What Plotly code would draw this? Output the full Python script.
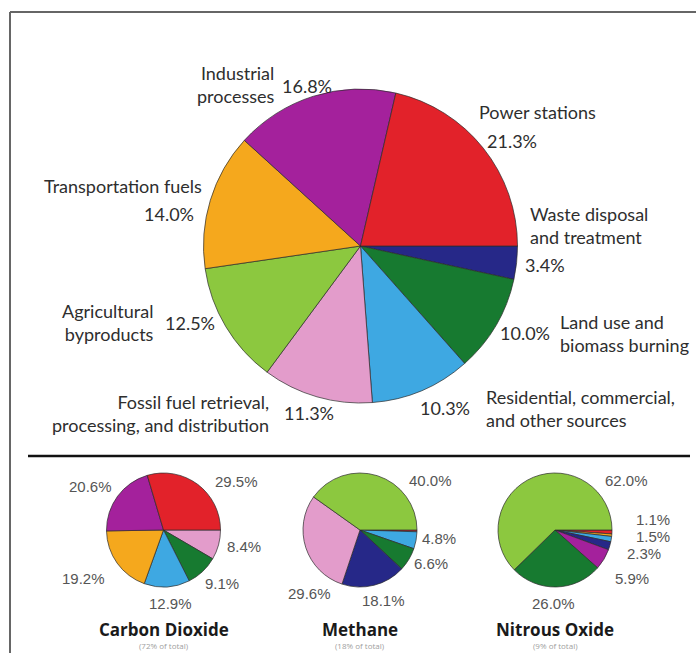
import plotly.graph_objects as go

W, H = 696, 653

# Emission sources and their colours
sources = [
    "Power stations",
    "Industrial processes",
    "Transportation fuels",
    "Agricultural byproducts",
    "Fossil fuel retrieval, processing, and distribution",
    "Residential, commercial, and other sources",
    "Land use and biomass burning",
    "Waste disposal and treatment",
]
source_colors = {
    "Power stations": "#e2222a",
    "Industrial processes": "#a4219c",
    "Transportation fuels": "#f5a81d",
    "Agricultural byproducts": "#8cc83f",
    "Fossil fuel retrieval, processing, and distribution": "#e39ccb",
    "Residential, commercial, and other sources": "#3ea8e2",
    "Land use and biomass burning": "#177a30",
    "Waste disposal and treatment": "#262888",
}

# All greenhouse gases (%), listed counterclockwise from 3 o'clock
all_gases = [21.3, 16.8, 14.0, 12.5, 11.3, 10.3, 10.0, 3.4]

# Carbon dioxide (%)
co2_sources = ["Power stations", "Industrial processes", "Transportation fuels",
               "Residential, commercial, and other sources",
               "Land use and biomass burning",
               "Fossil fuel retrieval, processing, and distribution"]
co2_values = [29.5, 20.6, 19.2, 12.9, 9.1, 8.4]

# Methane (%)
ch4_sources = ["Agricultural byproducts",
               "Fossil fuel retrieval, processing, and distribution",
               "Waste disposal and treatment",
               "Land use and biomass burning",
               "Residential, commercial, and other sources",
               "Power stations"]
ch4_values = [40.0, 29.6, 18.1, 6.6, 4.8, 0.5]

# Nitrous oxide (%)
n2o_sources = ["Agricultural byproducts", "Land use and biomass burning",
               "Industrial processes", "Waste disposal and treatment",
               "Residential, commercial, and other sources",
               "Transportation fuels", "Power stations"]
n2o_values = [62.0, 26.0, 5.9, 2.3, 1.5, 0.7, 1.1]

gas_titles = ["Carbon Dioxide", "Methane", "Nitrous Oxide"]
gas_shares = ["(72% of total)", "(18% of total)", "(9% of total)"]

# Wrapped captions for the main chart
captions = {
    "Power stations": "Power stations",
    "Industrial processes": "Industrial<br>processes",
    "Transportation fuels": "Transportation fuels",
    "Agricultural byproducts": "Agricultural<br>byproducts",
    "Fossil fuel retrieval, processing, and distribution": "Fossil fuel retrieval,<br>processing, and distribution",
    "Residential, commercial, and other sources": "Residential, commercial,<br>and other sources",
    "Land use and biomass burning": "Land use and<br>biomass burning",
    "Waste disposal and treatment": "Waste disposal<br>and treatment",
}


def px_domain(cx, cy, r):
    return dict(x=[(cx - r) / W, (cx + r) / W],
                y=[(H - cy - r) / H, (H - cy + r) / H])


def pie(labels, values, dom):
    # slices are listed counterclockwise from 3 o'clock; draw them clockwise
    # from the same start by reversing the order
    labels = list(labels)[::-1]
    values = list(values)[::-1]
    return go.Pie(
        labels=labels, values=values, sort=False,
        direction="clockwise", rotation=90,
        marker=dict(colors=[source_colors[s] for s in labels],
                    line=dict(color="#2b2b2b", width=0.7)),
        textinfo="none", hoverinfo="label+percent",
        domain=dom, showlegend=False,
    )


fig = go.Figure()
fig.add_trace(pie(sources, all_gases, px_domain(360.5, 246, 157)))
small_centers = [(163.5, 530), (360, 530), (555, 530)]
for (cx, cy), labs, vals in zip(small_centers,
                                [co2_sources, ch4_sources, n2o_sources],
                                [co2_values, ch4_values, n2o_values]):
    fig.add_trace(pie(labs, vals, px_domain(cx, cy, 57)))

ann = []
TXT = "#2e2e2e"
BIG = dict(family="Lato, 'Open Sans', sans-serif", size=18, color=TXT)


def add_text(text, x, y, xanchor="left", align="left", font=BIG):
    ann.append(dict(text=text, x=x / W, y=1 - y / H, xref="paper", yref="paper",
                    xanchor=xanchor, yanchor="middle", align=align,
                    showarrow=False, font=font))


def pct(v):
    return f"{v:.1f}%"


# Main chart captions: (caption pos, anchor, percent pos, anchor)
big_layout = {
    "Power stations": ((477, 112), "left", (485, 141), "left"),
    "Industrial processes": ((277, 85), "right", (280, 86), "left"),
    "Transportation fuels": ((204, 186), "right", (196, 214), "right"),
    "Agricultural byproducts": ((156, 323), "right", (163, 323), "left"),
    "Fossil fuel retrieval, processing, and distribution": ((271, 413), "right", (282, 413), "left"),
    "Residential, commercial, and other sources": ((484, 408), "left", (472, 408), "right"),
    "Land use and biomass burning": ((558, 333), "left", (552, 333), "right"),
    "Waste disposal and treatment": ((528, 226), "left", (523, 265), "left"),
}
for s, v in zip(sources, all_gases):
    (tx, ty), ta, (px, py), pa = big_layout[s]
    add_text(captions[s], tx, ty, xanchor=ta, align=ta)
    add_text(pct(v), px, py, xanchor=pa, align=pa)

SMALL = dict(family="'Liberation Sans', Arial, sans-serif", size=15, color="#555555")
small_layout = [
    {"Power stations": (213, 481), "Industrial processes": (67, 486),
     "Fossil fuel retrieval, processing, and distribution": (225, 546),
     "Transportation fuels": (60, 578), "Land use and biomass burning": (203, 583),
     "Residential, commercial, and other sources": (147, 603)},
    {"Agricultural byproducts": (407, 480),
     "Residential, commercial, and other sources": (420, 538),
     "Land use and biomass burning": (412, 563),
     "Fossil fuel retrieval, processing, and distribution": (286, 593),
     "Waste disposal and treatment": (360, 600)},
    {"Agricultural byproducts": (603, 480), "Power stations": (634, 519),
     "Residential, commercial, and other sources": (634, 536),
     "Waste disposal and treatment": (625, 553),
     "Industrial processes": (613, 578), "Land use and biomass burning": (530, 603)},
]
for pos, labs, vals in zip(small_layout,
                           [co2_sources, ch4_sources, n2o_sources],
                           [co2_values, ch4_values, n2o_values]):
    for s, v in zip(labs, vals):
        if s in pos:
            x, y = pos[s]
            add_text(pct(v), x, y, font=SMALL)

for (cx, _), title, share in zip(small_centers, gas_titles, gas_shares):
    add_text(f"<b>{title}</b>", cx, 629, xanchor="center", align="center",
             font=dict(family="'Open Sans', sans-serif", size=17, color="#1a1a1a"))
    add_text(share, cx, 645, xanchor="center", align="center",
             font=dict(family="'Open Sans', sans-serif", size=8, color="#a0a0a0"))

shapes = [
    # frame
    dict(type="line", xref="paper", yref="paper", x0=10 / W, x1=1, y0=1 - 12 / H, y1=1 - 12 / H,
         line=dict(color="#666666", width=2)),
    dict(type="line", xref="paper", yref="paper", x0=10 / W, x1=10 / W, y0=0, y1=1 - 12 / H,
         line=dict(color="#666666", width=2)),
    # divider
    dict(type="line", xref="paper", yref="paper", x0=28 / W, x1=690 / W, y0=1 - 456 / H, y1=1 - 456 / H,
         line=dict(color="#111111", width=2.5)),
]

fig.update_layout(
    width=W, height=H, margin=dict(l=0, r=0, t=0, b=0),
    paper_bgcolor="white", plot_bgcolor="white",
    annotations=ann, shapes=shapes, showlegend=False,
)
fig.write_html("out.html")
